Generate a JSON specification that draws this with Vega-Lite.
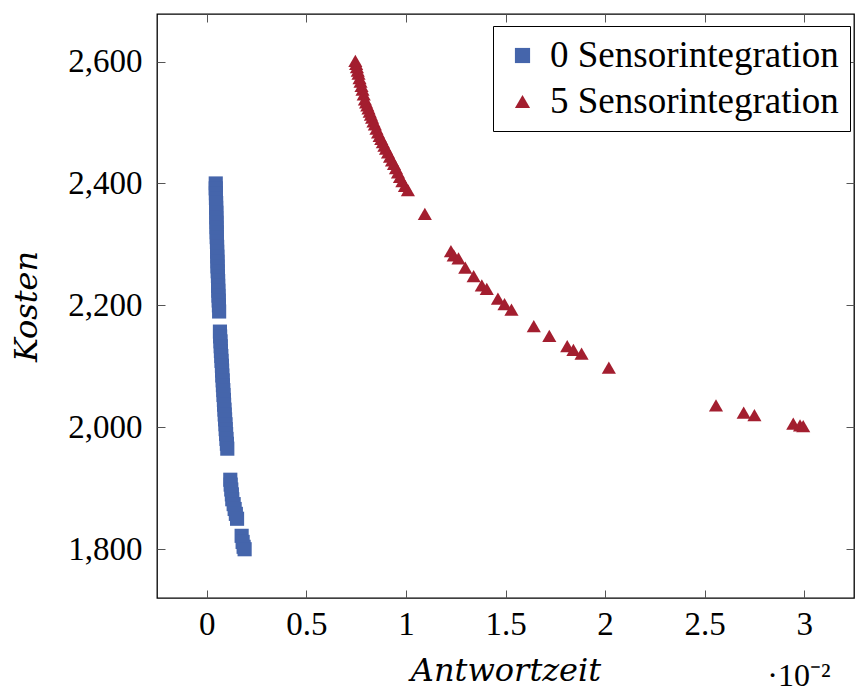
{
  "$schema": "https://vega.github.io/schema/vega-lite/v6.json",
  "width": 697,
  "height": 584,
  "autosize": {"type": "none"},
  "padding": {"left": 157, "top": 14, "right": 1, "bottom": 94},
  "background": "white",
  "config": {
    "font": "DejaVu Serif",
    "view": {"stroke": "black", "strokeWidth": 1.3},
    "axis": {"grid": false, "domain": false, "labelFont": "Liberation Serif", "titleFont": "DejaVu Serif", "labelColor": "black", "titleColor": "black", "tickColor": "#555", "tickWidth": 1}
  },
  "title": {"text": "·10⁻²", "orient": "bottom", "anchor": "end", "fontSize": 32, "fontWeight": "normal", "font": "Liberation Serif", "color": "black", "offset": -10, "dy": -15, "dx": -24},
  "data": {"values": [
    {"s": "0 Sensorintegration", "t": 0.045, "k": 2400}, {"s": "0 Sensorintegration", "t": 0.045, "k": 2392}, {"s": "0 Sensorintegration", "t": 0.046, "k": 2384}, {"s": "0 Sensorintegration", "t": 0.046, "k": 2376},
    {"s": "0 Sensorintegration", "t": 0.047, "k": 2368}, {"s": "0 Sensorintegration", "t": 0.047, "k": 2360}, {"s": "0 Sensorintegration", "t": 0.048, "k": 2352}, {"s": "0 Sensorintegration", "t": 0.048, "k": 2344},
    {"s": "0 Sensorintegration", "t": 0.049, "k": 2336}, {"s": "0 Sensorintegration", "t": 0.049, "k": 2328}, {"s": "0 Sensorintegration", "t": 0.050, "k": 2320}, {"s": "0 Sensorintegration", "t": 0.050, "k": 2312},
    {"s": "0 Sensorintegration", "t": 0.051, "k": 2304}, {"s": "0 Sensorintegration", "t": 0.052, "k": 2296}, {"s": "0 Sensorintegration", "t": 0.052, "k": 2288}, {"s": "0 Sensorintegration", "t": 0.053, "k": 2280},
    {"s": "0 Sensorintegration", "t": 0.054, "k": 2272}, {"s": "0 Sensorintegration", "t": 0.054, "k": 2264}, {"s": "0 Sensorintegration", "t": 0.055, "k": 2256}, {"s": "0 Sensorintegration", "t": 0.056, "k": 2248},
    {"s": "0 Sensorintegration", "t": 0.057, "k": 2240}, {"s": "0 Sensorintegration", "t": 0.057, "k": 2232}, {"s": "0 Sensorintegration", "t": 0.058, "k": 2224}, {"s": "0 Sensorintegration", "t": 0.059, "k": 2216},
    {"s": "0 Sensorintegration", "t": 0.060, "k": 2208}, {"s": "0 Sensorintegration", "t": 0.061, "k": 2200}, {"s": "0 Sensorintegration", "t": 0.062, "k": 2190},
    {"s": "0 Sensorintegration", "t": 0.066, "k": 2157}, {"s": "0 Sensorintegration", "t": 0.067, "k": 2149}, {"s": "0 Sensorintegration", "t": 0.069, "k": 2141}, {"s": "0 Sensorintegration", "t": 0.070, "k": 2133},
    {"s": "0 Sensorintegration", "t": 0.071, "k": 2125}, {"s": "0 Sensorintegration", "t": 0.073, "k": 2117}, {"s": "0 Sensorintegration", "t": 0.074, "k": 2109}, {"s": "0 Sensorintegration", "t": 0.076, "k": 2101},
    {"s": "0 Sensorintegration", "t": 0.077, "k": 2093}, {"s": "0 Sensorintegration", "t": 0.078, "k": 2085}, {"s": "0 Sensorintegration", "t": 0.080, "k": 2077}, {"s": "0 Sensorintegration", "t": 0.081, "k": 2069},
    {"s": "0 Sensorintegration", "t": 0.083, "k": 2061}, {"s": "0 Sensorintegration", "t": 0.084, "k": 2053}, {"s": "0 Sensorintegration", "t": 0.086, "k": 2045}, {"s": "0 Sensorintegration", "t": 0.087, "k": 2037},
    {"s": "0 Sensorintegration", "t": 0.089, "k": 2029}, {"s": "0 Sensorintegration", "t": 0.090, "k": 2021}, {"s": "0 Sensorintegration", "t": 0.092, "k": 2013}, {"s": "0 Sensorintegration", "t": 0.094, "k": 2005},
    {"s": "0 Sensorintegration", "t": 0.095, "k": 1997}, {"s": "0 Sensorintegration", "t": 0.097, "k": 1989}, {"s": "0 Sensorintegration", "t": 0.099, "k": 1981}, {"s": "0 Sensorintegration", "t": 0.101, "k": 1973},
    {"s": "0 Sensorintegration", "t": 0.103, "k": 1965},
    {"s": "0 Sensorintegration", "t": 0.118, "k": 1914}, {"s": "0 Sensorintegration", "t": 0.120, "k": 1906}, {"s": "0 Sensorintegration", "t": 0.123, "k": 1898}, {"s": "0 Sensorintegration", "t": 0.126, "k": 1890},
    {"s": "0 Sensorintegration", "t": 0.128, "k": 1882}, {"s": "0 Sensorintegration", "t": 0.135, "k": 1874}, {"s": "0 Sensorintegration", "t": 0.140, "k": 1866}, {"s": "0 Sensorintegration", "t": 0.146, "k": 1858},
    {"s": "0 Sensorintegration", "t": 0.152, "k": 1850},
    {"s": "0 Sensorintegration", "t": 0.175, "k": 1822}, {"s": "0 Sensorintegration", "t": 0.180, "k": 1812}, {"s": "0 Sensorintegration", "t": 0.185, "k": 1804}, {"s": "0 Sensorintegration", "t": 0.190, "k": 1800},
    {"s": "5 Sensorintegration", "t": 0.746, "k": 2601}, {"s": "5 Sensorintegration", "t": 0.750, "k": 2596}, {"s": "5 Sensorintegration", "t": 0.754, "k": 2591}, {"s": "5 Sensorintegration", "t": 0.758, "k": 2585},
    {"s": "5 Sensorintegration", "t": 0.762, "k": 2580}, {"s": "5 Sensorintegration", "t": 0.767, "k": 2573}, {"s": "5 Sensorintegration", "t": 0.772, "k": 2567}, {"s": "5 Sensorintegration", "t": 0.777, "k": 2560},
    {"s": "5 Sensorintegration", "t": 0.782, "k": 2554}, {"s": "5 Sensorintegration", "t": 0.788, "k": 2546}, {"s": "5 Sensorintegration", "t": 0.794, "k": 2538}, {"s": "5 Sensorintegration", "t": 0.800, "k": 2533},
    {"s": "5 Sensorintegration", "t": 0.806, "k": 2528}, {"s": "5 Sensorintegration", "t": 0.812, "k": 2523}, {"s": "5 Sensorintegration", "t": 0.818, "k": 2518}, {"s": "5 Sensorintegration", "t": 0.824, "k": 2513},
    {"s": "5 Sensorintegration", "t": 0.830, "k": 2508}, {"s": "5 Sensorintegration", "t": 0.837, "k": 2502}, {"s": "5 Sensorintegration", "t": 0.844, "k": 2497}, {"s": "5 Sensorintegration", "t": 0.852, "k": 2490},
    {"s": "5 Sensorintegration", "t": 0.860, "k": 2484}, {"s": "5 Sensorintegration", "t": 0.868, "k": 2478}, {"s": "5 Sensorintegration", "t": 0.876, "k": 2473}, {"s": "5 Sensorintegration", "t": 0.884, "k": 2468},
    {"s": "5 Sensorintegration", "t": 0.892, "k": 2462}, {"s": "5 Sensorintegration", "t": 0.900, "k": 2457}, {"s": "5 Sensorintegration", "t": 0.910, "k": 2451}, {"s": "5 Sensorintegration", "t": 0.920, "k": 2444},
    {"s": "5 Sensorintegration", "t": 0.930, "k": 2438}, {"s": "5 Sensorintegration", "t": 0.940, "k": 2432}, {"s": "5 Sensorintegration", "t": 0.950, "k": 2425}, {"s": "5 Sensorintegration", "t": 0.960, "k": 2418},
    {"s": "5 Sensorintegration", "t": 0.970, "k": 2411}, {"s": "5 Sensorintegration", "t": 0.982, "k": 2404}, {"s": "5 Sensorintegration", "t": 0.995, "k": 2396}, {"s": "5 Sensorintegration", "t": 1.010, "k": 2389},
    {"s": "5 Sensorintegration", "t": 1.095, "k": 2350}, {"s": "5 Sensorintegration", "t": 1.226, "k": 2289}, {"s": "5 Sensorintegration", "t": 1.240, "k": 2282}, {"s": "5 Sensorintegration", "t": 1.264, "k": 2277},
    {"s": "5 Sensorintegration", "t": 1.298, "k": 2262}, {"s": "5 Sensorintegration", "t": 1.340, "k": 2248}, {"s": "5 Sensorintegration", "t": 1.381, "k": 2233}, {"s": "5 Sensorintegration", "t": 1.406, "k": 2227},
    {"s": "5 Sensorintegration", "t": 1.462, "k": 2211}, {"s": "5 Sensorintegration", "t": 1.495, "k": 2202}, {"s": "5 Sensorintegration", "t": 1.530, "k": 2193}, {"s": "5 Sensorintegration", "t": 1.642, "k": 2166},
    {"s": "5 Sensorintegration", "t": 1.720, "k": 2150}, {"s": "5 Sensorintegration", "t": 1.810, "k": 2133}, {"s": "5 Sensorintegration", "t": 1.841, "k": 2127}, {"s": "5 Sensorintegration", "t": 1.882, "k": 2121},
    {"s": "5 Sensorintegration", "t": 2.019, "k": 2098}, {"s": "5 Sensorintegration", "t": 2.557, "k": 2036}, {"s": "5 Sensorintegration", "t": 2.696, "k": 2024}, {"s": "5 Sensorintegration", "t": 2.750, "k": 2020},
    {"s": "5 Sensorintegration", "t": 2.945, "k": 2006}, {"s": "5 Sensorintegration", "t": 2.979, "k": 2003}, {"s": "5 Sensorintegration", "t": 2.995, "k": 2002}
  ]},
  "layer": [
    {
      "mark": {"type": "point", "filled": true, "opacity": 1, "size": 200, "strokeWidth": 0},
      "encoding": {
        "x": {"field": "t", "type": "quantitative", "scale": {"domain": [-0.25, 3.25], "nice": false, "zero": false},
              "axis": {"orient": "bottom", "values": [0, 0.5, 1, 1.5, 2, 2.5, 3], "format": "~g", "tickSize": -8, "labelPadding": 18, "labelFontSize": 33, "title": "Antwortzeit", "titleFontSize": 32, "titleFontStyle": "italic", "titleFontWeight": "normal", "titlePadding": 14}},
        "y": {"field": "k", "type": "quantitative", "scale": {"domain": [1720, 2678], "nice": false, "zero": false},
              "axis": {"orient": "left", "values": [1800, 2000, 2200, 2400, 2600], "format": ",d", "tickSize": -8, "labelPadding": 23, "labelFontSize": 33, "title": "Kosten", "titleFontSize": 32, "titleFontStyle": "italic", "titleFontWeight": "normal", "titlePadding": 24}},
        "color": {"field": "s", "type": "nominal", "scale": {"domain": ["0 Sensorintegration", "5 Sensorintegration"], "range": ["#4565ab", "#a31e2f"]},
                  "legend": {"title": null, "orient": "none", "legendX": 336, "legendY": 12, "fillColor": "white", "strokeColor": "black", "padding": 11, "labelFontSize": 37, "labelFont": "Liberation Serif", "labelColor": "black", "symbolSize": 230, "symbolStrokeWidth": 0, "rowPadding": 8, "labelOffset": 9, "labelLimit": 500}},
        "shape": {"field": "s", "type": "nominal", "scale": {"domain": ["0 Sensorintegration", "5 Sensorintegration"], "range": ["square", "triangle-up"]}}
      }
    },
    {
      "mark": {"type": "point", "opacity": 0},
      "encoding": {
        "x": {"field": "t", "type": "quantitative", "axis": {"orient": "top", "values": [0, 0.5, 1, 1.5, 2, 2.5, 3], "labels": false, "tickSize": -8, "title": null}},
        "y": {"field": "k", "type": "quantitative", "axis": {"orient": "right", "values": [1800, 2000, 2200, 2400, 2600], "labels": false, "tickSize": -8, "title": null}}
      }
    }
  ],
  "resolve": {"axis": {"x": "independent", "y": "independent"}}
}
